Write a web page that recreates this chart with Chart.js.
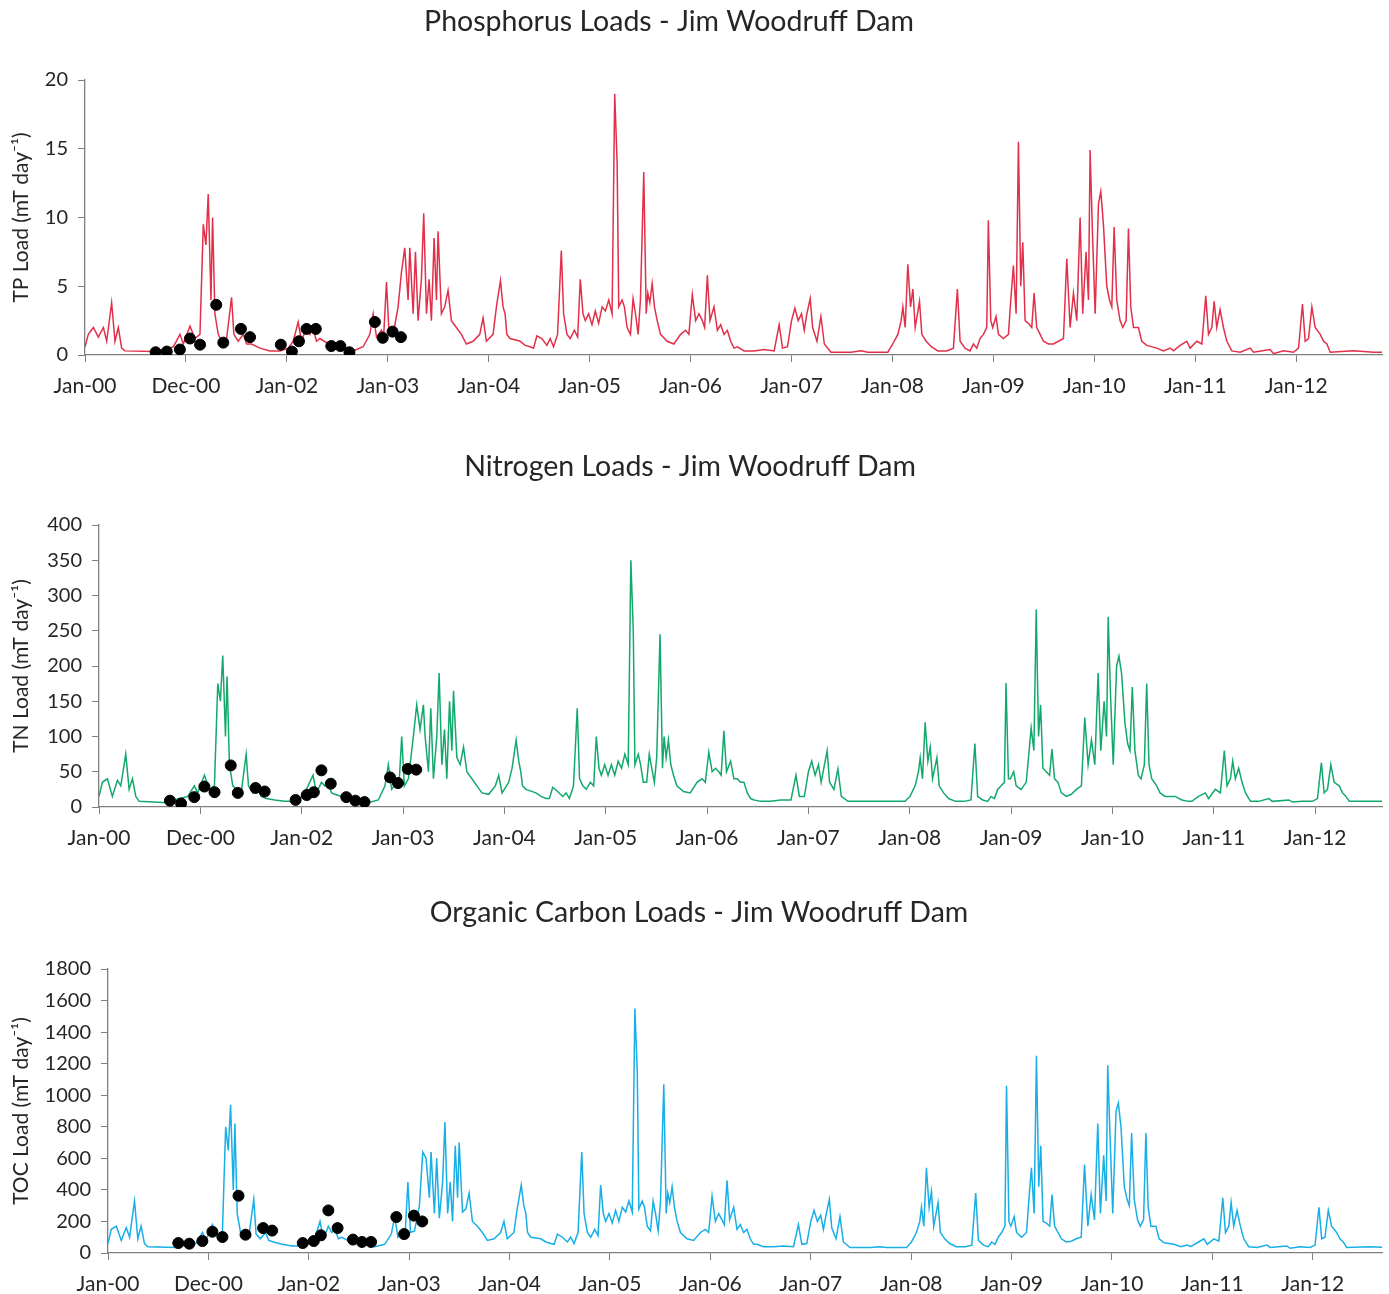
<!DOCTYPE html>
<html>
<head>
<meta charset="utf-8">
<script src="https://cdn.jsdelivr.net/npm/chart.js@4.4.1/dist/chart.umd.min.js"></script>
<style>
  body { margin: 0; background: #fff; width: 1389px; height: 1294px; overflow: hidden; position: relative; }
  .panel { position: absolute; left: 0; }
</style>
</head>
<body>
<div class="panel" style="top:0px"><canvas id="tpChart" width="1389" height="400"></canvas></div>
<div class="panel" style="top:445px"><canvas id="tnChart" width="1389" height="407"></canvas></div>
<div class="panel" style="top:891px"><canvas id="tocChart" width="1389" height="403"></canvas></div>
<script>
// x positions are years after Jan 2000 (one axis tick per year)
const xTickLabels = ["Jan-00", "Dec-00", "Jan-02", "Jan-03", "Jan-04", "Jan-05", "Jan-06",
  "Jan-07", "Jan-08", "Jan-09", "Jan-10", "Jan-11", "Jan-12"]

const dates = [
  0.000, 0.033, 0.083, 0.132, 0.182, 0.215, 0.264, 0.297, 0.330, 0.363, 0.396, 0.677, 0.743, 0.875, 0.941, 0.974,
  1.040, 1.089, 1.139, 1.172, 1.198, 1.221, 1.248, 1.264, 1.287, 1.320, 1.353, 1.403, 1.452, 1.475, 1.518, 1.568,
  1.601, 1.650, 1.733, 1.832, 1.931, 2.013, 2.063, 2.112, 2.145, 2.195, 2.228, 2.261, 2.294, 2.327, 2.393, 2.459,
  2.525, 2.591, 2.657, 2.756, 2.822, 2.855, 2.888, 2.937, 2.960, 2.987, 3.013, 3.053, 3.102, 3.135, 3.168, 3.201,
  3.218, 3.251, 3.274, 3.300, 3.333, 3.356, 3.383, 3.409, 3.432, 3.459, 3.482, 3.498, 3.531, 3.564, 3.597, 3.630,
  3.680, 3.729, 3.779, 3.845, 3.911, 3.944, 3.977, 4.043, 4.076, 4.116, 4.142, 4.162, 4.179, 4.212, 4.311, 4.361,
  4.411, 4.444, 4.477, 4.526, 4.576, 4.609, 4.642, 4.682, 4.719, 4.742, 4.775, 4.808, 4.848, 4.881, 4.907, 4.934,
  4.957, 4.990, 5.023, 5.056, 5.089, 5.123, 5.156, 5.189, 5.222, 5.248, 5.272, 5.288, 5.321, 5.344, 5.371, 5.404,
  5.430, 5.454, 5.480, 5.503, 5.536, 5.560, 5.576, 5.596, 5.619, 5.642, 5.669, 5.702, 5.768, 5.834, 5.901, 5.950,
  5.983, 6.017, 6.050, 6.083, 6.116, 6.139, 6.166, 6.192, 6.232, 6.265, 6.298, 6.331, 6.364, 6.397, 6.430, 6.464,
  6.530, 6.629, 6.728, 6.828, 6.877, 6.911, 6.960, 7.000, 7.033, 7.066, 7.099, 7.126, 7.152, 7.185, 7.209, 7.252,
  7.291, 7.325, 7.391, 7.589, 7.689, 7.755, 7.954, 8.003, 8.053, 8.086, 8.103, 8.126, 8.152, 8.179, 8.202, 8.225,
  8.268, 8.291, 8.334, 8.384, 8.450, 8.537, 8.604, 8.643, 8.670, 8.719, 8.769, 8.802, 8.835, 8.868, 8.901, 8.934,
  8.950, 8.974, 8.993, 9.026, 9.050, 9.099, 9.149, 9.172, 9.198, 9.225, 9.248, 9.271, 9.291, 9.314, 9.347, 9.380,
  9.403, 9.429, 9.463, 9.496, 9.545, 9.595, 9.644, 9.694, 9.727, 9.760, 9.793, 9.826, 9.859, 9.885, 9.918, 9.942,
  9.958, 9.981, 10.008, 10.041, 10.064, 10.090, 10.123, 10.150, 10.173, 10.196, 10.222, 10.255, 10.282, 10.315, 10.338, 10.361,
  10.388, 10.437, 10.470, 10.520, 10.619, 10.685, 10.751, 10.784, 10.850, 10.916, 10.949, 11.015, 11.065, 11.104, 11.131, 11.164,
  11.187, 11.213, 11.246, 11.279, 11.313, 11.362, 11.445, 11.544, 11.577, 11.742, 11.775, 11.874, 11.973, 12.023, 12.062, 12.089,
  12.122, 12.155, 12.188, 12.238, 12.271, 12.304, 12.337, 12.568, 12.766, 12.860
]

const tpLoad = [
  0.6, 1.5, 2.0, 1.3, 2.0, 1.0, 3.8, 1.0, 2.0, 0.5, 0.3, 0.25, 0.3, 0.6, 1.5, 0.8,
  2.1, 1.2, 1.5, 9.5, 8.0, 11.7, 4.0, 10.0, 3.0, 1.5, 1.0, 1.2, 4.2, 1.5, 1.0, 1.5,
  0.8, 0.8, 0.5, 0.3, 0.3, 0.5, 1.0, 2.4, 1.0, 2.0, 1.5, 1.9, 1.0, 1.2, 0.9, 1.0,
  0.6, 0.5, 0.3, 0.6, 1.5, 3.0, 1.3, 1.8, 1.5, 5.3, 1.5, 1.5, 3.5, 6.0, 7.8, 4.0,
  7.8, 3.0, 7.5, 2.5, 5.5, 10.3, 3.0, 5.5, 2.5, 8.5, 4.0, 9.0, 3.0, 3.5, 4.7, 2.5,
  2.0, 1.5, 0.8, 1.0, 1.5, 2.7, 1.0, 1.5, 3.5, 5.4, 3.5, 3.0, 1.5, 1.2, 1.0, 0.7,
  0.6, 0.5, 1.4, 1.2, 0.7, 1.2, 0.6, 1.5, 7.6, 3.0, 1.5, 1.2, 1.8, 1.3, 5.5, 3.0,
  2.5, 3.0, 2.2, 3.2, 2.3, 3.5, 3.2, 4.0, 3.0, 19.0, 14.0, 3.5, 4.0, 3.5, 2.0, 1.5,
  4.1, 3.0, 1.5, 4.0, 13.3, 3.0, 4.5, 3.8, 5.2, 3.5, 2.5, 1.5, 1.0, 0.8, 1.5, 1.8,
  1.5, 4.4, 2.5, 3.0, 2.5, 2.0, 5.8, 2.5, 3.5, 1.8, 2.2, 1.5, 1.8, 1.0, 0.5, 0.6,
  0.3, 0.3, 0.4, 0.3, 2.2, 0.5, 0.6, 2.5, 3.4, 2.5, 3.0, 1.8, 3.0, 4.1, 2.0, 1.0,
  2.8, 0.8, 0.2, 0.2, 0.3, 0.2, 0.2, 0.8, 1.5, 2.5, 3.5, 2.0, 6.6, 3.5, 4.8, 2.0,
  3.9, 1.5, 1.0, 0.6, 0.3, 0.3, 0.5, 4.8, 1.0, 0.5, 0.3, 0.8, 0.5, 1.2, 1.5, 2.0,
  9.8, 2.5, 2.0, 2.8, 1.5, 1.2, 1.5, 4.0, 6.5, 3.0, 15.5, 5.0, 8.2, 2.5, 2.3, 2.0,
  4.5, 2.0, 1.5, 1.0, 0.8, 0.8, 1.0, 1.2, 7.0, 2.0, 4.5, 2.5, 10.0, 3.0, 7.5, 4.0,
  14.9, 9.0, 3.0, 11.0, 11.9, 9.5, 5.0, 4.0, 3.5, 9.3, 4.0, 2.5, 2.0, 2.5, 9.2, 3.5,
  2.0, 2.0, 1.0, 0.7, 0.5, 0.3, 0.5, 0.3, 0.7, 1.0, 0.5, 1.0, 0.8, 4.3, 1.5, 2.0,
  3.9, 2.0, 3.3, 2.0, 1.0, 0.3, 0.2, 0.5, 0.2, 0.4, 0.1, 0.3, 0.2, 0.5, 3.7, 1.0,
  1.2, 3.5, 2.0, 1.5, 1.0, 0.8, 0.2, 0.3, 0.2, 0.2
]

const tnLoad = [
  15, 35, 40, 15, 38, 30, 75, 25, 40, 15, 8, 6, 10, 15, 30, 20,
  45, 25, 30, 175, 150, 215, 100, 185, 60, 30, 25, 20, 75, 30, 20, 25,
  15, 12, 10, 8, 8, 15, 30, 45, 20, 35, 30, 35, 20, 18, 15, 15,
  10, 8, 6, 10, 30, 60, 25, 35, 30, 100, 30, 40, 100, 145, 110, 145,
  100, 50, 140, 40, 100, 190, 60, 110, 40, 150, 80, 165, 70, 60, 85, 50,
  40, 30, 20, 18, 30, 45, 20, 35, 55, 95, 65, 50, 30, 25, 20, 15,
  12, 12, 28, 22, 15, 20, 12, 30, 140, 40, 30, 25, 35, 30, 100, 55,
  45, 60, 45, 60, 45, 65, 55, 75, 60, 350, 250, 60, 75, 60, 35, 35,
  75, 55, 35, 70, 245, 55, 100, 70, 95, 60, 45, 30, 22, 20, 35, 40,
  35, 78, 50, 55, 50, 45, 108, 50, 65, 40, 40, 35, 35, 20, 12, 10,
  8, 8, 10, 10, 45, 15, 15, 50, 65, 45, 60, 35, 55, 80, 35, 25,
  54, 15, 8, 8, 8, 8, 8, 15, 30, 50, 70, 40, 120, 65, 85, 40,
  70, 30, 20, 12, 8, 8, 10, 90, 15, 10, 8, 15, 12, 25, 30, 35,
  176, 40, 40, 50, 30, 25, 35, 70, 112, 80, 280, 100, 145, 55, 50, 45,
  82, 40, 35, 20, 15, 18, 25, 30, 127, 60, 95, 60, 190, 80, 150, 100,
  270, 160, 60, 200, 214, 190, 120, 90, 80, 170, 80, 45, 40, 60, 175, 60,
  40, 30, 20, 15, 15, 10, 8, 8, 15, 20, 12, 25, 20, 80, 30, 40,
  65, 40, 55, 35, 20, 8, 8, 12, 8, 10, 7, 8, 8, 12, 63, 20,
  25, 60, 35, 30, 20, 15, 8, 8, 8, 8
]

const tocLoad = [
  60, 150, 170, 80, 160, 100, 330, 90, 170, 60, 40, 35, 45, 60, 130, 80,
  180, 100, 120, 800, 650, 940, 400, 820, 250, 130, 100, 110, 340, 120, 90, 130,
  80, 70, 55, 45, 45, 60, 100, 200, 90, 170, 130, 150, 90, 100, 80, 85,
  60, 50, 40, 55, 120, 230, 100, 150, 120, 450, 130, 140, 300, 640, 600, 350,
  640, 250, 600, 220, 450, 830, 250, 450, 200, 680, 350, 700, 260, 280, 380, 200,
  170, 130, 80, 90, 130, 200, 90, 130, 280, 430, 300, 250, 130, 100, 90, 70,
  60, 55, 120, 100, 70, 100, 60, 130, 640, 250, 130, 100, 150, 110, 430, 250,
  200, 250, 190, 270, 200, 290, 260, 330, 260, 1550, 1150, 280, 330, 290, 170, 140,
  330, 250, 140, 320, 1070, 250, 380, 320, 420, 290, 200, 130, 90, 80, 130, 150,
  130, 360, 200, 250, 210, 180, 460, 210, 290, 150, 180, 130, 150, 90, 55, 55,
  40, 40, 45, 40, 180, 55, 60, 200, 270, 200, 240, 150, 240, 340, 160, 90,
  230, 70, 35, 35, 40, 35, 35, 70, 130, 200, 290, 170, 540, 290, 390, 170,
  320, 130, 90, 60, 40, 40, 50, 380, 80, 50, 40, 70, 55, 100, 130, 170,
  1060, 200, 170, 230, 130, 100, 130, 330, 540, 250, 1250, 420, 680, 200, 190, 170,
  370, 170, 130, 90, 70, 75, 90, 100, 560, 170, 370, 210, 820, 250, 620, 330,
  1190, 740, 250, 900, 950, 800, 420, 340, 300, 760, 340, 210, 170, 210, 760, 290,
  170, 170, 90, 65, 55, 40, 50, 40, 65, 90, 55, 90, 75, 350, 130, 170,
  320, 170, 270, 170, 90, 40, 35, 50, 35, 45, 30, 40, 35, 50, 290, 90,
  100, 270, 170, 130, 90, 70, 35, 40, 35, 35
]

// observed (sampled) loads, black dots
const obsDates = [0.70, 0.81, 0.94, 1.04, 1.14, 1.30, 1.37, 1.545, 1.635, 1.94, 2.05,
  2.12, 2.195, 2.287, 2.44, 2.53, 2.62, 2.872, 2.95, 3.047, 3.13]
const tpObs = [0.2, 0.25, 0.4, 1.2, 0.75, 3.65, 0.9, 1.9, 1.3, 0.75, 0.25,
  1.0, 1.9, 1.9, 0.65, 0.65, 0.2, 2.4, 1.25, 1.7, 1.3]
const tnObs = [9, 5, 14, 29, 21, 59, 20, 27, 22, 10, 17,
  21, 52, 33, 14, 9, 7, 42, 34, 54, 53]
const tocObs = [63, 59, 76, 135, 101, 363, 116, 158, 142, 63, 76,
  112, 270, 158, 85, 70, 70, 228, 120, 237, 200]

const axisColor = "#7f7f7f"
const textColor = "#262626"
const fontFamily = "Lato, 'Open Sans', sans-serif"

// nudge the title sideways (the titles are not centred on the canvas in the original)
const titleShift = {
  id: "titleShift",
  afterLayout(chart, args, options) {
    const t = chart.titleBlock
    if (t && options.dx) {
      t.left += options.dx
      t.right += options.dx
    }
  },
}

function makePanel(id, opts) {
  const ctx = document.getElementById(id).getContext("2d")
  const line = dates.map((d, i) => ({ x: d, y: opts.values[i] }))
  const obs = obsDates.map((d, i) => ({ x: d, y: opts.obs[i] }))

  return new Chart(ctx, {
    type: "line",
    plugins: [titleShift],
    data: {
      datasets: [
        {
          type: "scatter",
          data: obs,
          pointRadius: 5.5,
          pointBackgroundColor: "#000",
          pointBorderColor: "#000",
          showLine: false,
        },
        {
          data: line,
          borderColor: opts.color,
          borderWidth: 1.5,
          pointRadius: 0,
          tension: 0,
          fill: false,
        },
      ],
    },
    options: {
      responsive: false,
      animation: false,
      layout: { padding: { left: 0, right: 7, top: 0, bottom: opts.padBottom } },
      plugins: {
        legend: { display: false },
        tooltip: { enabled: false },
        titleShift: { dx: opts.titleDx },
        title: {
          display: true,
          text: opts.title,
          color: textColor,
          font: { family: fontFamily, size: 28.5, weight: "normal" },
          padding: { top: 5, bottom: opts.titleGap },
        },
      },
      scales: {
        x: {
          type: "linear",
          min: 0,
          max: opts.xMax,
          afterBuildTicks: (s) => {
            s.ticks = xTickLabels.map((_, i) => ({ value: i }))
          },
          afterFit: (s) => {
            s.height = opts.xAxisHeight
          },
          ticks: {
            autoSkip: false,
            maxRotation: 0,
            padding: 12,
            color: textColor,
            font: { family: fontFamily, size: 21 },
            callback: (v) => xTickLabels[v] || "",
          },
          grid: { drawOnChartArea: false, drawTicks: true, tickLength: 7, tickColor: axisColor },
          border: { display: true, color: axisColor, width: 1.3 },
        },
        y: {
          min: 0,
          max: opts.yMax,
          afterFit: (s) => {
            s.width = opts.left
          },
          ticks: {
            stepSize: opts.yStep,
            padding: 10,
            color: textColor,
            font: { family: fontFamily, size: 20 },
            callback: (v) => String(v),
          },
          title: {
            display: true,
            text: opts.yTitle,
            color: textColor,
            font: { family: fontFamily, size: 21 },
            padding: { top: 9, bottom: 0 },
          },
          grid: { drawOnChartArea: false, drawTicks: true, tickLength: 7, tickColor: axisColor },
          border: { display: true, color: axisColor, width: 1.3 },
        },
      },
    },
  })
}

makePanel("tpChart", {
  title: "Phosphorus Loads - Jim Woodruff Dam",
  yTitle: "TP Load (mT day\u207B\u00B9)",
  values: tpLoad,
  obs: tpObs,
  color: "#e2304a",
  yMax: 20,
  yStep: 5,
  left: 85,
  xMax: 12.85,
  titleGap: 40.8,
  titleDx: -22,
  xAxisHeight: 42,
  padBottom: 3,
})

makePanel("tnChart", {
  title: "Nitrogen Loads - Jim Woodruff Dam",
  yTitle: "TN Load (mT day\u207B\u00B9)",
  values: tnLoad,
  obs: tnObs,
  color: "#13a86c",
  yMax: 400,
  yStep: 50,
  left: 99,
  xMax: 12.66,
  titleGap: 40.8,
  titleDx: -1,
  xAxisHeight: 45,
  padBottom: 0,
})

makePanel("tocChart", {
  title: "Organic Carbon Loads - Jim Woodruff Dam",
  yTitle: "TOC Load (mT day\u207B\u00B9)",
  values: tocLoad,
  obs: tocObs,
  color: "#18aee6",
  yMax: 1800,
  yStep: 200,
  left: 108,
  xMax: 12.69,
  titleGap: 38.8,
  titleDx: 8,
  xAxisHeight: 41,
  padBottom: 0,
})
</script>
</body>
</html>
